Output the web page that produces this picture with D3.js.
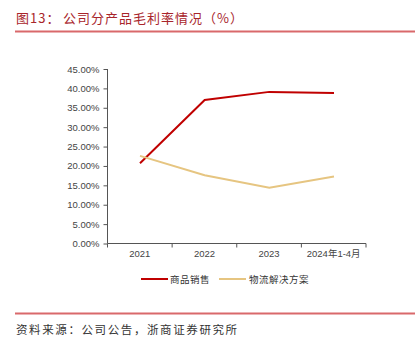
<!DOCTYPE html>
<html><head><meta charset="utf-8">
<script src="https://cdn.jsdelivr.net/npm/d3@7"></script>
<style>body{margin:0;background:#fff}</style>
</head><body>
<script>
const categories = ["2021","2022","2023","2024年1-4月"];
const seriesNames = ["商品销售","物流解决方案"];
const salesValues = [20.7, 37.0, 39.1, 38.8];
const logisticsValues = [22.6, 17.6, 14.4, 17.3];
const yTicks = [0,5,10,15,20,25,30,35,40,45];
const colors = ["#c00000","#e6c581"];

const W=415,H=343;
const svg=d3.select("body").append("svg").attr("width",W).attr("height",H);
const cjk='"Noto Sans CJK SC", sans-serif';
const lat='"Liberation Sans", Arial, sans-serif';

const title=svg.append("text").attr("x",16).attr("y",23).attr("fill","#a8252b")
  .attr("font-family",cjk).attr("font-size",13).attr("letter-spacing",1);
title.append("tspan").text("图13：");
title.append("tspan").attr("x",63).text("公司分产品毛利率情况（%）");
svg.append("line").attr("x1",15).attr("x2",415).attr("y1",31.5).attr("y2",31.5)
  .attr("stroke","#d9696b").attr("stroke-width",2);
svg.append("line").attr("x1",15).attr("x2",415).attr("y1",313.5).attr("y2",313.5)
  .attr("stroke","#d9696b").attr("stroke-width",2);
svg.append("text").attr("x",16).attr("y",334).attr("fill","#333").attr("letter-spacing",1.6)
  .attr("font-family",cjk).attr("font-size",11.5).text("资料来源：公司公告，浙商证券研究所");

const x=d3.scalePoint().domain(categories).range([140,334]);
const xb=d3.scaleBand().domain(categories).range([107.5,366]);
const y=d3.scaleLinear().domain([0,45]).range([243.5,69]);

const gy=svg.append("g").attr("transform","translate(107.5,0)")
  .call(d3.axisLeft(y).tickValues(yTicks).tickSize(4).tickFormat(d=>d.toFixed(2)+"%"));
gy.selectAll("text").attr("font-family",lat).attr("font-size",9.5).attr("fill","#444").attr("dx",-1);
gy.selectAll("line,path").attr("stroke","#555");
gy.select(".domain").attr("d","M0,"+y(45)+"V"+y(0));

const gx=svg.append("g").attr("transform","translate(0,243.5)")
  .call(d3.axisBottom(xb).tickSize(0).tickPadding(7));
gx.selectAll("text").attr("font-family",lat+","+cjk).attr("font-size",9.5).attr("fill","#444");
gx.select(".domain").attr("stroke","#555").attr("d","M107.5,0H366");
xb.domain().concat(["_end"]).forEach((d,i)=>{
  const xx = i<categories.length? xb(d): xb.range()[1];
  gx.append("line").attr("x1",xx).attr("x2",xx).attr("y1",0).attr("y2",4).attr("stroke","#555");
});

const line=d3.line().x((d,i)=>x(categories[i])).y(d=>y(d));
[salesValues,logisticsValues].forEach((vals,i)=>{
  svg.append("path").datum(vals).attr("d",line).attr("fill","none")
    .attr("stroke",colors[i]).attr("stroke-width",2);
});

const leg=[{x:141,tx:170},{x:219,tx:249}];
seriesNames.forEach((n,i)=>{
  svg.append("line").attr("x1",leg[i].x).attr("x2",leg[i].x+27).attr("y1",279).attr("y2",279)
    .attr("stroke",colors[i]).attr("stroke-width",2);
  svg.append("text").attr("x",leg[i].tx).attr("y",282.5).attr("font-family",cjk)
    .attr("font-size",9.5).attr("letter-spacing",0.5).attr("fill","#333").text(n);
});
</script>
</body></html>
